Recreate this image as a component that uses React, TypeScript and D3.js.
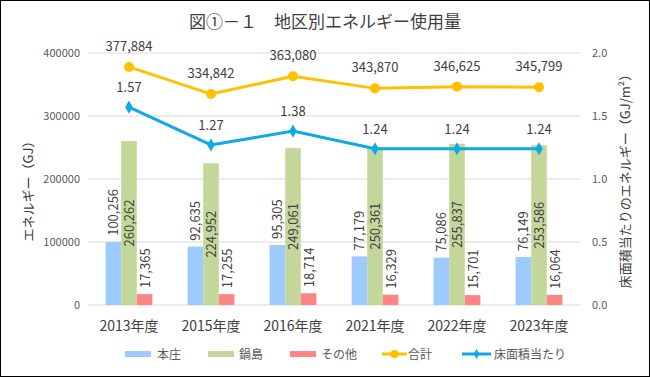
import React from "react";
import * as d3 from "d3";

const categories = ["2013年度", "2015年度", "2016年度", "2021年度", "2022年度", "2023年度"];
const honjo = [100256, 92635, 95305, 77179, 75086, 76149];
const nabeshima = [260262, 224952, 249061, 250361, 255837, 253586];
const other = [17365, 17255, 18714, 16329, 15701, 16064];
const total = [377884, 334842, 363080, 343870, 346625, 345799];
const perArea = [1.57, 1.27, 1.38, 1.24, 1.24, 1.24];
const leftTicks = [0, 100000, 200000, 300000, 400000];
const rightTicks = [0, 0.5, 1.0, 1.5, 2.0];

const W = 650, H = 377;
const FONT = "'Noto Sans CJK JP', 'Noto Sans', sans-serif";
const C_BLUE = "#9DCBFF";
const C_GREEN = "#C4D79B";
const C_RED = "#FF8585";
const C_YEL = "#FFC000";
const C_LBLUE = "#10A8E8";
const TXT = "#404040";
const TICK = "#595959";

export default function App() {
  const left = 88, right = 580, top = 53, bottom = 305;
  const x = d3.scaleBand<string>().domain(categories).range([left, right]);
  const y = d3.scaleLinear().domain([0, 400000]).range([bottom, top]);
  const y2 = d3.scaleLinear().domain([0, 2]).range([bottom, top]);
  const bw = 15.6;
  const cx = (i: number) => (x(categories[i]) as number) + x.bandwidth() / 2;
  const fmt = d3.format(",");
  const series = [
    { vals: honjo, color: C_BLUE, off: -1, inside: false },
    { vals: nabeshima, color: C_GREEN, off: 0, inside: true },
    { vals: other, color: C_RED, off: 1, inside: false },
  ];
  const totalLine = d3.line<number>().x((_, i) => cx(i)).y((d) => y(d))(total) as string;
  const areaLine = d3.line<number>().x((_, i) => cx(i)).y((d) => y2(d))(perArea) as string;

  return (
    <svg width={W} height={H} style={{ display: "block", position: "absolute", left: 0, top: 0 }} fontFamily={FONT}>
      <rect x={0.5} y={0.5} width={W - 1} height={H - 1} fill="#fff" stroke="#000" strokeWidth={1} />
      <text x={W / 2} y={28} textAnchor="middle" fontSize={17} fill={TXT}>図①－１　地区別エネルギー使用量</text>
      {leftTicks.map((t) => (
        <g key={t}>
          <line x1={left} x2={right} y1={y(t)} y2={y(t)} stroke="#D9D9D9" strokeWidth={1} />
          <text x={80} y={y(t) + 4} textAnchor="end" fontSize={11} fill={TICK}>{t}</text>
        </g>
      ))}
      {rightTicks.map((t) => (
        <text key={t} x={592} y={y2(t) + 4} textAnchor="start" fontSize={11} fill={TICK}>{t.toFixed(1)}</text>
      ))}
      <text transform={`translate(33,188) rotate(-90)`} textAnchor="middle" fontSize={13} fill={TXT}>エネルギー（GJ）</text>
      <text transform={`translate(630,178) rotate(-90)`} textAnchor="middle" fontSize={13} fill={TXT}>床面積当たりのエネルギー（GJ/m²）</text>
      {series.map((s, si) =>
        s.vals.map((v, i) => {
          const bx = cx(i) + s.off * bw - bw / 2;
          return <rect key={`${si}-${i}`} x={bx} y={y(v)} width={bw} height={bottom - y(v)} fill={s.color} />;
        })
      )}
      {series.map((s, si) =>
        s.vals.map((v, i) => {
          const tx = cx(i) + s.off * bw + 5;
          const ty = s.inside ? (y(v) + bottom) / 2 : y(v) - 6;
          return (
            <text key={`l${si}-${i}`} transform={`translate(${tx},${ty}) rotate(-90)`} textAnchor={s.inside ? "middle" : "start"} fontSize={13} fill={TXT}>
              {fmt(v)}
            </text>
          );
        })
      )}
      <path d={totalLine} fill="none" stroke={C_YEL} strokeWidth={3} />
      {total.map((v, i) => (
        <g key={`t${i}`}>
          <circle cx={cx(i)} cy={y(v)} r={5} fill={C_YEL} />
          <text x={cx(i)} y={y(v) - 16} textAnchor="middle" fontSize={13} fill={TXT}>{fmt(v)}</text>
        </g>
      ))}
      <path d={areaLine} fill="none" stroke={C_LBLUE} strokeWidth={3} />
      {perArea.map((v, i) => (
        <g key={`a${i}`}>
          <path d={d3.symbol(d3.symbolDiamond, 50)() as string} transform={`translate(${cx(i)},${y2(v)})`} fill={C_LBLUE} />
          <text x={cx(i)} y={y2(v) - 15} textAnchor="middle" fontSize={13} fill={TXT}>{v.toFixed(2)}</text>
        </g>
      ))}
      {categories.map((c, i) => (
        <text key={c} x={cx(i)} y={331} textAnchor="middle" fontSize={14} fill={TXT}>{c}</text>
      ))}
      <g fontSize={12} fill={TICK}>
        <rect x={125} y={351} width={26} height={6} fill={C_BLUE} />
        <text x={157} y={359}>本庄</text>
        <rect x={208} y={351} width={26} height={6} fill={C_GREEN} />
        <text x={239} y={359}>鍋島</text>
        <rect x={290} y={351} width={26} height={6} fill={C_RED} />
        <text x={321} y={359}>その他</text>
        <line x1={382} x2={407} y1={354} y2={354} stroke={C_YEL} strokeWidth={3} />
        <circle cx={394.5} cy={354} r={4} fill={C_YEL} />
        <text x={408} y={359}>合計</text>
        <line x1={462} x2={491} y1={354} y2={354} stroke={C_LBLUE} strokeWidth={3} />
        <path d={d3.symbol(d3.symbolDiamond, 30)() as string} transform="translate(476.5,354)" fill={C_LBLUE} />
        <text x={494} y={359}>床面積当たり</text>
      </g>
    </svg>
  );
}
